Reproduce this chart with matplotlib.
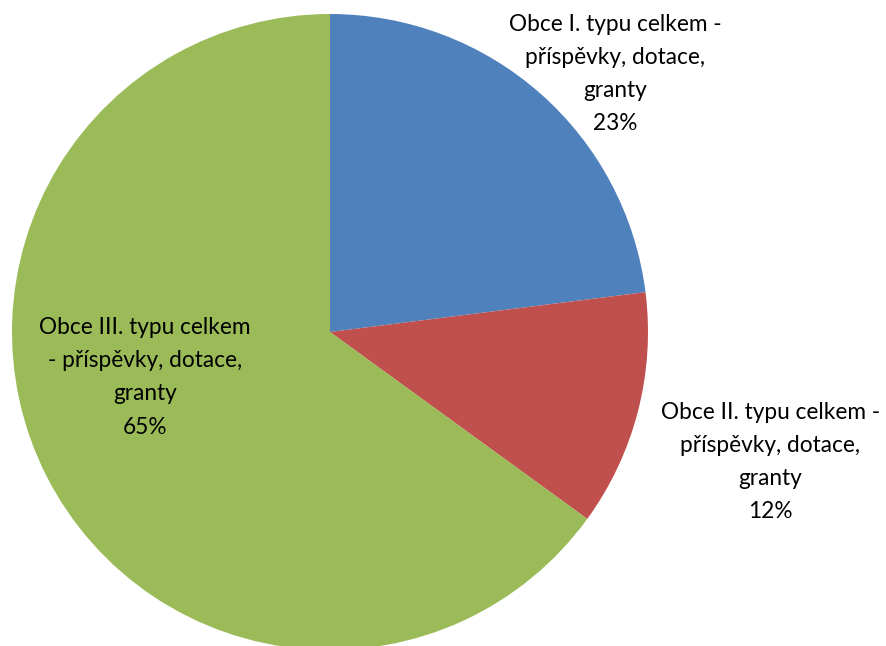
import matplotlib
matplotlib.use("Agg")
import matplotlib.pyplot as plt

categories = [
    "Obce I. typu celkem -\npříspěvky, dotace,\ngranty",
    "Obce II. typu celkem -\npříspěvky, dotace,\ngranty",
    "Obce III. typu celkem\n- příspěvky, dotace,\ngranty",
]
shares = [23, 12, 65]
colors = ["#4F81BD", "#C0504D", "#9BBB59"]
label_xy = [(0.896, 0.811), (1.384, -0.409), (-0.582, -0.142)]

plt.rcParams["font.family"] = ["Lato", "DejaVu Sans"]

W, H = 886, 646
fig = plt.figure(figsize=(W / 100, H / 100), dpi=100)
cx, cy, r = 330, 332, 318
ax = fig.add_axes([(cx - r) / W, (H - cy - r) / H, 2 * r / W, 2 * r / H])
ax.pie(shares, colors=colors, startangle=90, counterclock=False, radius=1,
       wedgeprops=dict(linewidth=0))
ax.set_xlim(-1, 1)
ax.set_ylim(-1, 1)
ax.set_aspect("equal")
ax.axis("off")

for name, val, (x, y) in zip(categories, shares, label_xy):
    ax.text(x, y, f"{name}\n{val}%", ha="center", va="center", fontsize=16.3,
            linespacing=1.72, color="black", clip_on=False)

fig.savefig("out.png", dpi=100)
